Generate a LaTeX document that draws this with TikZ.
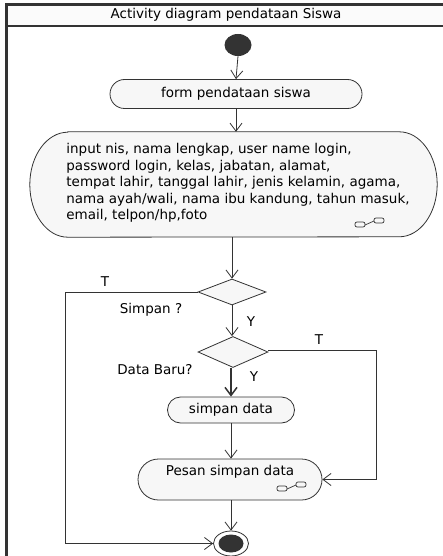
\documentclass[tikz,border=0pt]{standalone}
\usepackage{fontspec}
\setmainfont{DejaVu Sans}
\usetikzlibrary{arrows.meta,shapes.geometric,shapes.misc}
\definecolor{ln}{HTML}{333333}
\definecolor{nf}{HTML}{F7F7F7}
\tikzset{
  base/.style={font=\fontsize{13.5}{16.5}\selectfont, text=black},
  act/.style={base, rounded rectangle, draw=ln, fill=nf, line width=0.8pt, inner sep=0pt},
  dec/.style={diamond, draw=ln, fill=nf, line width=0.8pt, inner sep=0pt, aspect=2.5},
  arr/.style={draw=ln, line width=0.8pt, -{Straight Barb[length=8pt,width=12pt]}},
  lbl/.style={base},
  objicon/.pic={
    \draw[ln, line width=0.7pt, rounded corners=2pt] (-16,2) rectangle (-6,-3);
    \draw[ln, line width=0.7pt, rounded corners=2pt] (3,-2) rectangle (13,-7);
    \draw[ln, line width=0.7pt] (-6,0) -- (3,-4);
  }
}
\begin{document}
\begin{tikzpicture}[x=1pt,y=-1pt]
\useasboundingbox (0,0) rectangle (443,556);
% frame
\fill[white] (0,0) rectangle (443,556);
\fill[nf!50!white] (6,4) rectangle (460,26);
\draw[ln, line width=2.6pt] (6.5,600) -- (6.5,4.5) -- (460,4.5);
\draw[ln, line width=2pt] (6.5,26) -- (460,26);
\node[lbl] (title) at (226,15) {Activity diagram pendataan Siswa};
% nodes
\node[ellipse, fill=ln, minimum width=27pt, minimum height=22pt, inner sep=0pt] (start) at (238,45) {};
\node[act, minimum width=252pt, minimum height=29pt] (form) at (236,94) {form pendataan siswa};
\node[rectangle, inner sep=0pt, minimum width=407pt, minimum height=105pt] (big) at (233.5,184.5) {};
\draw[ln, fill=nf, line width=0.8pt]
  ([xshift=38pt]big.north west) -- ([xshift=-38pt]big.north east)
  arc[start angle=90, end angle=-90, x radius=38pt, y radius=52.5pt]
  -- ([xshift=38pt]big.south west)
  arc[start angle=270, end angle=90, x radius=38pt, y radius=52.5pt] -- cycle;
\node[lbl, align=left] (bigtxt) at (238,183) {input nis, nama lengkap, user name login,\\password login, kelas, jabatan, alamat,\\tempat lahir, tanggal lahir, jenis kelamin, agama,\\nama ayah/wali, nama ibu kandung, tahun masuk,\\email, telpon/hp,foto};
\pic at (371,225) {objicon};
\node[dec, minimum width=68pt, minimum height=26pt] (d1) at (232,292) {};
\node[dec, minimum width=70pt, minimum height=31pt] (d2) at (233,352) {};
\node[act, minimum width=127pt, minimum height=26pt] (simpan) at (231,410) {simpan data};
\node[act, minimum width=184pt, minimum height=41pt] (pesan) at (230,479.5) {};
\node[lbl] (pesantxt) at (230,472) {Pesan simpan data};
\pic at (293,489) {objicon};
\node[ellipse, draw=ln, fill=white, line width=0.8pt, minimum width=35pt, minimum height=25pt, inner sep=0pt] (end) at (231,543.5) {};
\fill[ln] (end.center) ellipse (12.5pt and 9pt);
% labels
\node[lbl] (t1) at (105,282) {T};
\node[lbl] (q1) at (151,310) {Simpan ?};
\node[lbl] (y1) at (251,322) {Y};
\node[lbl] (t2) at (319,340) {T};
\node[lbl] (q2) at (155,370) {Data Baru?};
\node[lbl] (y2) at (254,377) {Y};
% connectors
\coordinate (cL) at (65,292);
\coordinate (cR) at (376,350);
\draw[arr] (start.south) -- (form.north);
\draw[arr] (form.south) -- (form.south |- big.north);
\draw[arr] (d1.north |- big.south) -- (d1.north);
\draw[arr] (d1.west) -- (cL) |- (end.west);
\draw[arr] (d1.south) -- (d1.south |- d2.north);
\draw[arr, line width=1.5pt] (d2.south -| simpan.north) -- (simpan.north);
\draw[arr] (d2.east |- cR) -- (cR) |- (pesan.east);
\draw[arr] (simpan.south) -- (simpan.south |- pesan.north);
\draw[arr] (pesan.south -| end.north) -- (end.north);
\end{tikzpicture}
\end{document}
